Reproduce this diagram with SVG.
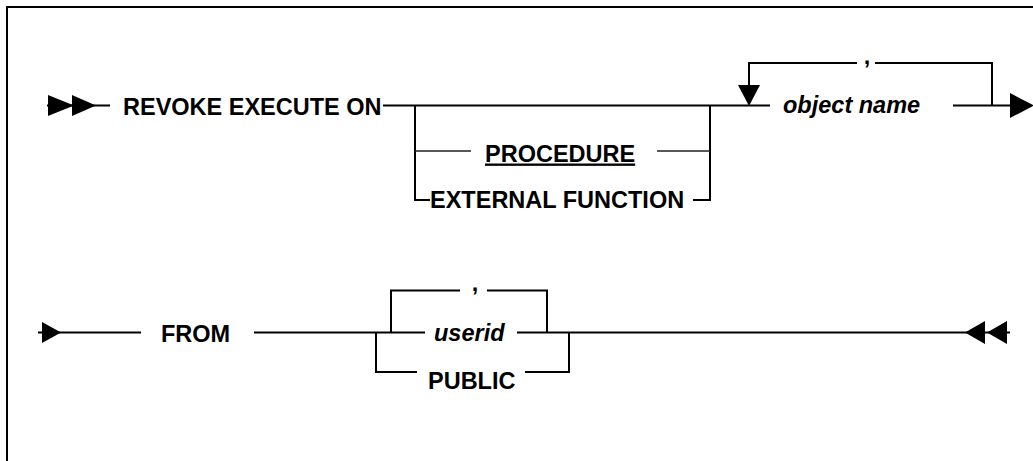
<svg xmlns="http://www.w3.org/2000/svg" width="1033" height="461" viewBox="0 0 1033 461">
<style>
  .t { font-family: "Liberation Sans", Arial, sans-serif; font-weight: bold; font-size: 23.5px; fill: #000; }
  .i { font-style: italic; }
  .ln { stroke: #000; stroke-width: 2; fill: none; }
  .thin { stroke: #222; stroke-width: 1.5; fill: none; }
  .ah { fill: #000; stroke: none; }
</style>
<rect x="0" y="0" width="1033" height="461" fill="#fff"/>
<g id="frame">
  <path class="ln" d="M7,461 V7 H1033"/>
</g>
<g id="connectors">
  <!-- row 1 -->
  <path class="ln" d="M47,105.5 H110"/>
  <polygon class="ah" points="48,95 74,105.5 48,116"/>
  <polygon class="ah" points="72,95 96,105.5 72,116"/>
  <path class="ln" d="M383,105.5 H770"/>
  <path class="ln" d="M415,105.5 V200 H430"/>
  <path class="ln" d="M693,200 H710 V105.5"/>
  <path class="thin" d="M415,151 H471"/>
  <path class="thin" d="M657,151 H710"/>
  <path class="ln" d="M749,86 V63 H857"/>
  <path class="ln" d="M875,63 H992 V105.5"/>
  <polygon class="ah" points="738,85 760,85 749,106"/>
  <path class="ln" d="M953,105.5 H1011"/>
  <polygon class="ah" points="1010,93 1034,105.5 1010,118"/>
  <!-- row 2 -->
  <path class="ln" d="M38,332.5 H141"/>
  <polygon class="ah" points="42,322 61,332.5 42,343"/>
  <path class="ln" d="M254,332.5 H425"/>
  <path class="ln" d="M517,332.5 H1010"/>
  <path class="ln" d="M391,332.5 V290.5 H460"/>
  <path class="ln" d="M487,290.5 H547 V332.5"/>
  <path class="ln" d="M376,332.5 V372 H417"/>
  <path class="ln" d="M525,372 H569 V332.5"/>
  <polygon class="ah" points="985,321 965,332.5 985,344"/>
  <polygon class="ah" points="1007,321 987,332.5 1007,344"/>
</g>
<g id="revoke"><text class="t" x="123" y="114.5">REVOKE EXECUTE ON</text></g>
<g id="procedure"><text class="t" x="485" y="161.5" text-decoration="underline">PROCEDURE</text></g>
<g id="external-function"><text class="t" x="430" y="208">EXTERNAL FUNCTION</text></g>
<g id="object-name"><text class="t i" x="783" y="113">object name</text></g>
<g id="comma1"><text class="t" x="867" y="64" text-anchor="middle">,</text></g>
<g id="from"><text class="t" x="161" y="342">FROM</text></g>
<g id="comma2"><text class="t" x="475" y="291" text-anchor="middle">,</text></g>
<g id="userid"><text class="t i" x="434" y="341">userid</text></g>
<g id="public"><text class="t" x="428" y="389">PUBLIC</text></g>
</svg>
